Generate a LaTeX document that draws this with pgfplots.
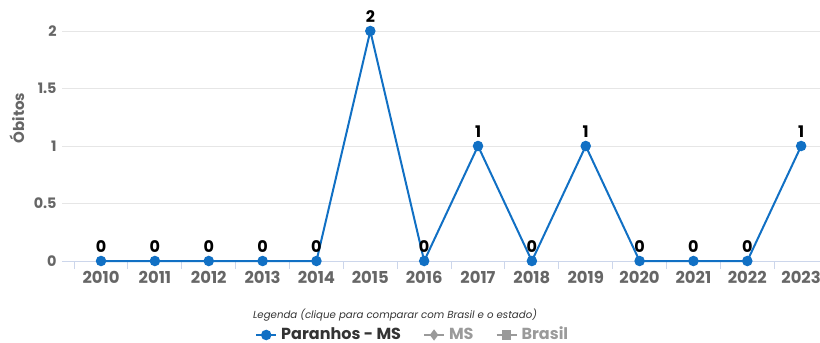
\documentclass[border=0pt]{standalone}
\usepackage{pgfplots}
\pgfplotsset{compat=1.18}
\usepackage{fontspec}
\setmainfont{Poppins}

\definecolor{serie}{HTML}{1170C4}
\definecolor{rotulo}{HTML}{666666}
\definecolor{eixo}{HTML}{CCD6EB}
\definecolor{grade}{HTML}{E6E6E6}
\definecolor{inativo}{HTML}{9A9A9A}
\definecolor{legenda}{HTML}{333333}

\pgfplotstableread{
ano obitos
2010 0
2011 0
2012 0
2013 0
2014 0
2015 2
2016 0
2017 1
2018 0
2019 1
2020 0
2021 0
2022 0
2023 1
}\dados

\begin{document}
\begin{tikzpicture}[x=1pt,y=1pt]
\useasboundingbox (0,0) rectangle (410,171.5);
\begin{axis}[
  at={(31pt,41pt)}, anchor=south west,
  scale only axis, width=379pt, height=115pt,
  xmin=2009.275, xmax=2023.35, ymin=0, ymax=2,
  clip=false,
  axis x line*=bottom, axis y line*=left,
  separate axis lines,
  x axis line style={draw=eixo, line width=0.5pt},
  y axis line style={draw=none},
  xtick={2010,...,2023},
  minor xtick={2009.5,2010.5,...,2022.5},
  ytick={0,0.5,1,1.5,2},
  tick align=outside,
  major tick length=0pt,
  major x tick style={draw=none},
  minor x tick style={draw=eixo, line width=0.5pt},
  minor tick length=4pt,
  y tick style={draw=none},
  ymajorgrids,
  grid style={draw=grade, line width=0.5pt},
  /pgf/number format/assume math mode=true,
  xticklabel style={/pgf/number format/1000 sep={}, anchor=center, yshift=-8pt,
    font=\bfseries\fontsize{8.2}{9}\selectfont, text=rotulo},
  yticklabel style={anchor=east, inner sep=0pt, xshift=-2.5pt,
    font=\bfseries\fontsize{7.2}{8}\selectfont, text=rotulo},
  ylabel={Óbitos},
  every axis y label/.style={at={(axis description cs:-0.0594,0.622)},
    anchor=center, rotate=90, font=\bfseries\fontsize{7.5}{8}\selectfont, text=rotulo},
  nodes near coords,
  every node near coord/.append style={font=\bfseries\fontsize{8}{9}\selectfont,
    text=black, anchor=center, yshift=7pt},
  legend image code/.code={\draw[mark repeat=2,mark phase=2,#1]
    plot coordinates {(0pt,0pt) (5pt,0pt) (10pt,0pt)};},
  legend style={draw=none, fill=none, at={(axis description cs:0.464,-0.3217)},
    anchor=center, legend columns=3, font=\bfseries\fontsize{8}{9}\selectfont,
    /tikz/every even column/.append style={column sep=9pt}},
  legend cell align=left,
]
\addplot[serie, line width=1pt, mark=*, mark size=2.1pt,
  mark options={fill=serie, draw=serie}] table[x=ano, y=obitos] {\dados};
\addlegendentry[text=legenda]{Paranhos - MS}
\addlegendimage{inativo, line width=1pt, mark=diamond*, mark size=2pt, mark options={fill=inativo}}
\addlegendentry[text=inativo]{MS}
\addlegendimage{inativo, line width=1pt, mark=square*, mark size=1.8pt, mark options={fill=inativo}}
\addlegendentry[text=inativo]{Brasil}
\end{axis}
\node[font=\itshape\fontsize{5.1}{6}\selectfont, text=legenda] at (197.5,14)
  {Legenda (clique para comparar com Brasil e o estado)};
\end{tikzpicture}
\end{document}
